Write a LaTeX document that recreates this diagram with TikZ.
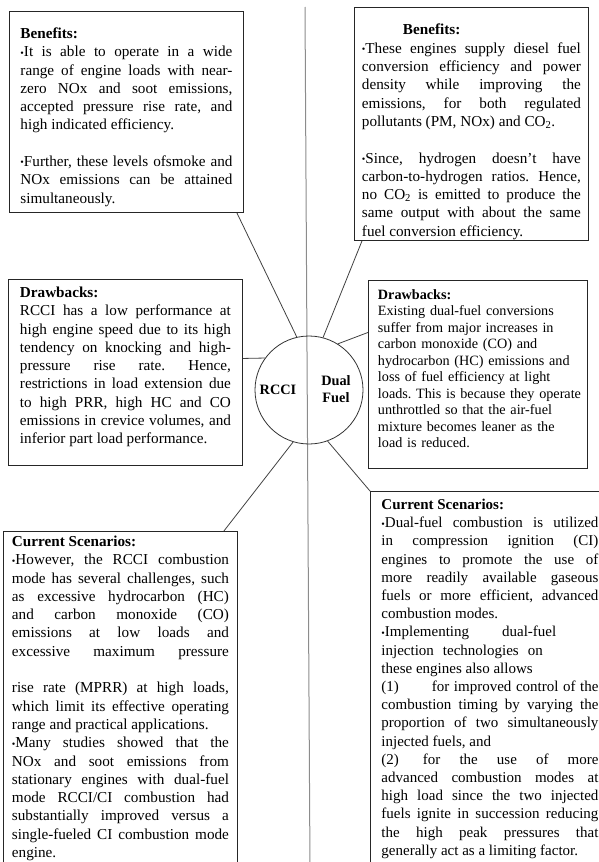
\documentclass[tikz,border=0pt]{standalone}
\usepackage{fontspec}
\setmainfont{Liberation Serif}
\hyphenpenalty=10000
\exhyphenpenalty=10000
\tolerance=10000
\frenchspacing
\newcommand{\bul}{\raisebox{0.6pt}{\fontsize{10}{10}\selectfont\textbullet}}

\begin{document}
\begin{tikzpicture}[x=1pt,y=-1pt]

\clip (0,0) rectangle (599,862);

\tikzset{panel/.style={draw=black!85,line width=0.9pt,anchor=north west,inner ysep=0pt,
  align=justify,font=\fontsize{15.2}{18.3}\selectfont}}
\tikzset{link/.style={draw=black!75,line width=0.8pt}}

% divider between the two modes
\coordinate (axtop) at (305,7);
\coordinate (axbot) at (310,870);
\draw[black!45,line width=1pt] (axtop) -- (axbot);

\node[circle,draw=black!80,line width=0.8pt,minimum size=108pt,inner sep=0pt] (hub) at (309,390) {};
\tikzset{hubtxt/.style={font=\fontsize{14.3}{16.7}\selectfont\bfseries,align=center,inner sep=0pt}}
\node[hubtxt] (rcci) at (278,390) {RCCI};
\node[hubtxt] (dual) at (336,389) {Dual\\Fuel};

% RCCI side
\node[panel,text width=212pt,inner xsep=11pt,text height=27pt,text depth=174pt] (ben1) at (9,11) {%
\textbf{Benefits:}\\
\bul It is able to operate in a wide\linebreak
range of engine loads with near-\linebreak
zero NOx and soot emissions,\linebreak
accepted pressure rise rate, and\linebreak
high indicated efficiency.\\[18.3pt]
\bul Further, these levels ofsmoke and\linebreak
NOx emissions can be attained\linebreak
simultaneously.};

\node[panel,text width=211pt,inner xsep=11.5pt,text height=18pt,text depth=168pt] (drw1) at (8,279) {%
\textbf{Drawbacks:}\\
RCCI has a low performance at\linebreak
high engine speed due to its high\linebreak
tendency on knocking and high-\linebreak
pressure rise rate. Hence,\linebreak
restrictions in load extension due\linebreak
to high PRR, high HC and CO\linebreak
emissions in crevice volumes, and\linebreak
inferior part load performance.};

\node[panel,text width=217pt,inner xsep=8.5pt,text height=15pt,text depth=340pt] (cur1) at (3,531) {%
\textbf{Current Scenarios:}\\
\bul However, the RCCI combustion\linebreak
mode has several challenges, such\linebreak
as excessive hydrocarbon (HC)\linebreak
and carbon monoxide (CO)\linebreak
emissions at low loads and\linebreak
excessive maximum pressure\linebreak
\mbox{}\\
rise rate (MPRR) at high loads,\linebreak
which limit its effective operating\linebreak
range and practical applications.\\
\bul Many studies showed that the\linebreak
NOx and soot emissions from\linebreak
stationary engines with dual-fuel\linebreak
mode RCCI/CI combustion had\linebreak
substantially improved versus a\linebreak
single-fueled CI combustion mode\linebreak
engine.};

% Dual fuel side
\node[panel,text width=219pt,inner xsep=7.5pt,text height=27.5pt,text depth=205.5pt] (ben2) at (354,7) {%
\hspace*{41pt}\textbf{Benefits:}\\
\bul These engines supply diesel fuel\linebreak
conversion efficiency and power\linebreak
density while improving the\linebreak
emissions, for both regulated\linebreak
pollutants (PM, NOx) and CO\textsubscript{2}.\\[18.3pt]
\bul Since, hydrogen doesn't have\linebreak
carbon-to-hydrogen ratios. Hence,\linebreak
no CO\textsubscript{2} is emitted to produce the\linebreak
same output with about the same\linebreak
fuel conversion efficiency.};

\node[panel,align=left,font=\fontsize{14.2}{16.5}\selectfont,text width=200pt,inner xsep=9.5pt,text height=19pt,text depth=169pt] (drw2) at (368,280) {%
\textbf{Drawbacks:}\\
Existing dual-fuel conversions\\
suffer from major increases in\\
carbon monoxide (CO) and\\
hydrocarbon (HC) emissions and\\
loss of fuel efficiency at light\\
\mbox{loads. This is because they operate}\\
unthrottled so that the air-fuel\\
mixture becomes leaner as the\\
load is reduced.};

\node[panel,font=\fontsize{15}{18.2}\selectfont,text width=217pt,inner xsep=11pt,text height=18pt,text depth=400pt] (cur2) at (370,491) {%
\textbf{Current Scenarios:}\\
\bul Dual-fuel combustion is utilized\linebreak
in compression ignition (CI)\linebreak
engines to promote the use of\linebreak
more readily available gaseous\linebreak
fuels or more efficient, advanced\linebreak
combustion modes.\\
\bul Implementing\hspace{2.2em}dual-fuel\\
injection\hspace{0.6em}technologies\hspace{0.6em}on\\
these engines also allows\\
(1)\hspace{2.2em}for improved control of the\linebreak
combustion timing by varying the\linebreak
proportion of two simultaneously\linebreak
injected fuels, and\\
(2)\hspace{1.6em}for the use of more\linebreak
advanced combustion modes at\linebreak
high load since the two injected\linebreak
fuels ignite in succession reducing\linebreak
the high peak pressures that\linebreak
generally act as a limiting factor.};

% connectors to the hub
\draw[link] ([xshift=-7pt]ben1.south east) -- (hub.103);
\draw[link] ([yshift=14pt]drw1.east) -- (hub.144);
\draw[link] ([xshift=-14pt]cur1.north east) -- (hub.253);
\draw[link] ([xshift=8pt]ben2.south west) -- (hub.75);
\draw[link] ([yshift=42pt]drw2.west) -- (hub.58);
\draw[link] (cur2.north west) -- (hub.290);

\end{tikzpicture}
\end{document}
